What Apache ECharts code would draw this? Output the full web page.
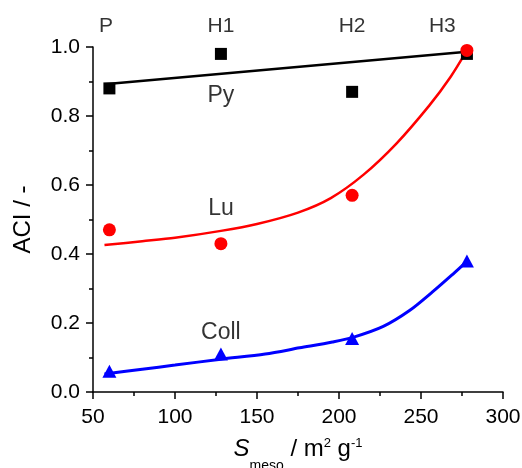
<!DOCTYPE html>
<html>
<head>
<meta charset="utf-8">
<script src="https://cdn.jsdelivr.net/npm/echarts@6/dist/echarts.min.js"></script>
<style>
  html, body { margin: 0; padding: 0; background: #fff; }
  #chart { width: 522px; height: 468px; }
</style>
</head>
<body>
<div id="chart"></div>
<script>
// measured points (S_meso vs ACI)
const sampleX = [60, 128, 208, 278]
const pyY = [0.88, 0.98, 0.87, 0.98]
const luY = [0.47, 0.43, 0.57, 0.99]
const collY = [0.06, 0.11, 0.155, 0.38]

// fitted curves
const pyFitX = [57, 278]
const pyFitY = [0.892, 0.986]
const luFitX = [57, 80, 100, 128, 150, 175, 195, 215, 235, 255, 268, 278]
const luFitY = [0.426, 0.437, 0.447, 0.467, 0.487, 0.52, 0.562, 0.63, 0.72, 0.83, 0.913, 0.99]
const collFitX = [57, 80, 100, 128, 155, 176, 196, 209, 227, 243, 257, 270, 276]
const collFitY = [0.052, 0.066, 0.078, 0.095, 0.11, 0.128, 0.145, 0.159, 0.19, 0.236, 0.29, 0.344, 0.37]

// sample names along the top, and curve names
const topNames = ['P', 'H1', 'H2', 'H3']
const topNameX = [58, 128, 208, 263]
const curveNames = ['Py', 'Lu', 'Coll']
const curveNameX = [128, 128, 128]
const curveNameY = [0.858, 0.532, 0.171]

const FONT = 'Liberation Sans, Arial, sans-serif'

const pairs = (xs, ys) => xs.map((x, i) => [x, ys[i]])

const chart = echarts.init(document.getElementById('chart'))

const axisCommon = {
  axisLine: { show: true, lineStyle: { color: '#000', width: 1.5 } },
  axisTick: { show: true, inside: false, length: 7, lineStyle: { color: '#000', width: 1.5 } },
  minorTick: { show: true, splitNumber: 2, length: 4, lineStyle: { color: '#000', width: 1.5 } },
  splitLine: { show: false },
  axisLabel: { color: '#000', fontSize: 21, fontFamily: FONT }
}

const fitLine = (xs, ys, color, width) => ({
  type: 'line',
  data: pairs(xs, ys),
  showSymbol: false,
  smooth: 0.3,
  lineStyle: { color: color, width: width },
  silent: true,
  z: 2
})

const textSeries = (data, offset, size) => ({
  type: 'scatter',
  data: data,
  symbolSize: 0,
  silent: true,
  clip: false,
  label: {
    show: true,
    position: 'inside',
    offset: offset,
    formatter: p => p.data.name,
    color: '#000',
    fontSize: size,
    fontFamily: FONT
  }
})

const option = {
  animation: false,
  grid: { left: 93, right: 19, top: 47, bottom: 76, outerBoundsMode: 'none', containLabel: false },
  xAxis: {
    type: 'value',
    min: 50,
    max: 300,
    interval: 50,
    ...axisCommon,
    axisLabel: { ...axisCommon.axisLabel, margin: 15 },
    name: '{it|S}{sub|meso}{n| / m}{sup|2}{n| g}{sup|-1}',
    nameLocation: 'middle',
    nameGap: 45,
    nameTextStyle: {
      rich: {
        it: { fontSize: 24, fontStyle: 'italic', fontFamily: FONT, color: '#000', lineHeight: 24, verticalAlign: 'top' },
        n: { fontSize: 24, fontFamily: FONT, color: '#000', lineHeight: 24, verticalAlign: 'top' },
        sub: { fontSize: 14, fontFamily: FONT, color: '#000', lineHeight: 36, verticalAlign: 'bottom' },
        sup: { fontSize: 13, fontFamily: FONT, color: '#000', lineHeight: 14, verticalAlign: 'top' }
      }
    }
  },
  yAxis: {
    type: 'value',
    min: 0,
    max: 1,
    interval: 0.2,
    ...axisCommon,
    axisLabel: { ...axisCommon.axisLabel, margin: 13, formatter: v => v.toFixed(1) },
    name: 'ACI / -',
    nameLocation: 'middle',
    nameGap: 58,
    nameTextStyle: { color: '#000', fontSize: 24, fontFamily: FONT }
  },
  series: [
    fitLine(pyFitX, pyFitY, '#000', 2.5),
    fitLine(luFitX, luFitY, '#ff0000', 2.5),
    fitLine(collFitX, collFitY, '#0000ff', 3),
    {
      type: 'scatter',
      data: pairs(sampleX, pyY),
      symbol: 'rect',
      symbolSize: 12,
      itemStyle: { color: '#000', opacity: 1 },
      clip: false,
      z: 3
    },
    {
      type: 'scatter',
      data: pairs(sampleX, luY),
      symbol: 'circle',
      symbolSize: 13,
      itemStyle: { color: '#ff0000', opacity: 1 },
      clip: false,
      z: 4
    },
    {
      type: 'scatter',
      data: pairs(sampleX, collY),
      symbol: 'triangle',
      symbolSize: [14, 13],
      itemStyle: { color: '#0000ff', opacity: 1 },
      clip: false,
      z: 4
    },
    textSeries(topNames.map((n, i) => ({ name: n, value: [topNameX[i], 1] })), [0, -21], 21),
    textSeries(curveNames.map((n, i) => ({ name: n, value: [curveNameX[i], curveNameY[i]] })), [0, 0], 23)
  ]
}

chart.setOption(option)
</script>
</body>
</html>
